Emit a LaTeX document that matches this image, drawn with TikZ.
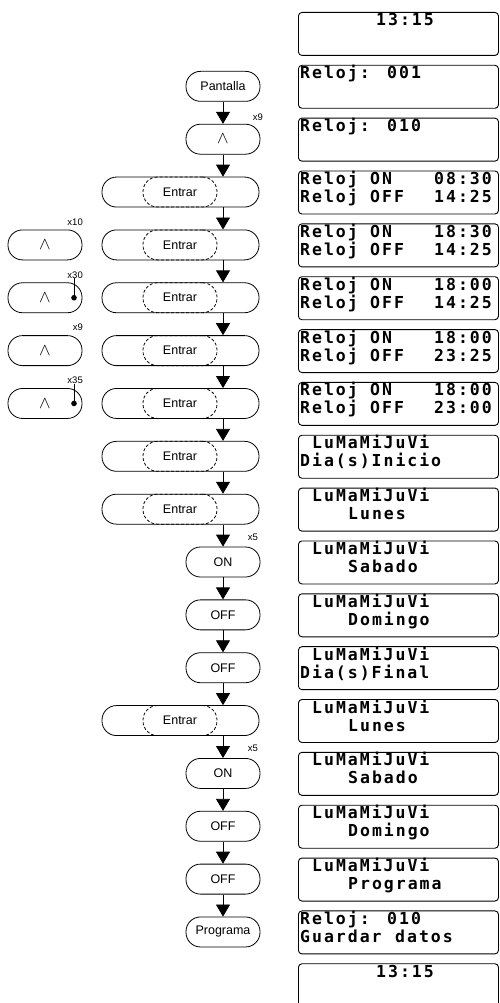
\documentclass[tikz,border=0pt]{standalone}
\usepackage{fontspec}
\setmainfont{Liberation Sans}
\newfontfamily\lcdfont[LetterSpace=12]{DejaVu Sans Mono}
\usetikzlibrary{arrows.meta}
\newcommand\upkey{\fontsize{16}{16}\selectfont$\wedge$}
\newcommand\lcdt[4]{\node[lcdtxt] (t-#1-#2-#3) at (#3,{12+52.85*#1-4+18*#2}) {#4};}
\tikzset{
  lcdbox/.style={draw, line width=0.9pt, rounded corners=3.5pt, minimum width=200pt, minimum height=43pt, anchor=north west, inner sep=0pt},
  lcdtxt/.style={font={\lcdfont\fontsize{16.5}{16.5}\selectfont\bfseries}, anchor=base west, inner sep=0pt},
  flow/.style={draw, line width=0.8pt, rounded corners=14.5pt, minimum width=74pt, minimum height=30pt, inner sep=0pt, font=\fontsize{12.5}{12.5}\selectfont},
  wideflow/.style={flow, minimum width=157pt},
  innerkey/.style={flow, dashed, dash pattern=on 3pt off 2pt},
  arr/.style={-{Triangle[width=14pt,length=12pt]}, line width=0.8pt},
  cnt/.style={font=\fontsize{9.5}{9.5}\selectfont, inner sep=0pt, anchor=east},
}
\begin{document}
\begin{tikzpicture}[x=1pt,y=-1pt]
\useasboundingbox (0,0) rectangle (499,1003);
% LCD displays
\foreach \i in {0,...,17} {
  \node[lcdbox] (d\i) at (298,{12+52.85*\i}) {};
}
\node[lcdbox, minimum height=60pt] (d18) at (298,{12+52.85*18}) {};
\lcdt{0}{1}{376}{13:15}
\lcdt{1}{1}{300}{Reloj:}\lcdt{1}{1}{387}{001}
\lcdt{2}{1}{300}{Reloj:}\lcdt{2}{1}{387}{010}
\lcdt{3}{1}{300}{Reloj}\lcdt{3}{1}{370}{ON}\lcdt{3}{1}{434}{08:30}
\lcdt{3}{2}{300}{Reloj}\lcdt{3}{2}{370}{OFF}\lcdt{3}{2}{434}{14:25}
\lcdt{4}{1}{300}{Reloj}\lcdt{4}{1}{370}{ON}\lcdt{4}{1}{434}{18:30}
\lcdt{4}{2}{300}{Reloj}\lcdt{4}{2}{370}{OFF}\lcdt{4}{2}{434}{14:25}
\lcdt{5}{1}{300}{Reloj}\lcdt{5}{1}{370}{ON}\lcdt{5}{1}{434}{18:00}
\lcdt{5}{2}{300}{Reloj}\lcdt{5}{2}{370}{OFF}\lcdt{5}{2}{434}{14:25}
\lcdt{6}{1}{300}{Reloj}\lcdt{6}{1}{370}{ON}\lcdt{6}{1}{434}{18:00}
\lcdt{6}{2}{300}{Reloj}\lcdt{6}{2}{370}{OFF}\lcdt{6}{2}{434}{23:25}
\lcdt{7}{1}{300}{Reloj}\lcdt{7}{1}{370}{ON}\lcdt{7}{1}{434}{18:00}
\lcdt{7}{2}{300}{Reloj}\lcdt{7}{2}{370}{OFF}\lcdt{7}{2}{434}{23:00}
\lcdt{8}{1}{312}{LuMaMiJuVi}\lcdt{8}{2}{300}{Dia(s)Inicio}
\lcdt{9}{1}{312}{LuMaMiJuVi}\lcdt{9}{2}{348}{Lunes}
\lcdt{10}{1}{312}{LuMaMiJuVi}\lcdt{10}{2}{348}{Sabado}
\lcdt{11}{1}{312}{LuMaMiJuVi}\lcdt{11}{2}{348}{Domingo}
\lcdt{12}{1}{312}{LuMaMiJuVi}\lcdt{12}{2}{300}{Dia(s)Final}
\lcdt{13}{1}{312}{LuMaMiJuVi}\lcdt{13}{2}{348}{Lunes}
\lcdt{14}{1}{312}{LuMaMiJuVi}\lcdt{14}{2}{348}{Sabado}
\lcdt{15}{1}{312}{LuMaMiJuVi}\lcdt{15}{2}{348}{Domingo}
\lcdt{16}{1}{312}{LuMaMiJuVi}\lcdt{16}{2}{348}{Programa}
\lcdt{17}{1}{300}{Reloj:}\lcdt{17}{1}{387}{010}
\lcdt{17}{2}{300}{Guardar}\lcdt{17}{2}{395}{datos}
\lcdt{18}{1}{376}{13:15}
% flow column
\node[flow] (f1) at (223,{33.5+52.85*1}) {Pantalla};
\node[flow] (f2) at (223,{33.5+52.85*2}) {\upkey};
\foreach \i in {3,...,9,13} {
  \node[innerkey] (e\i) at (180,{33.5+52.85*\i}) {Entrar};
  \node[wideflow] (f\i) at (180.5,{33.5+52.85*\i}) {};
}
\node[flow] (f10) at (223,{33.5+52.85*10}) {ON};
\node[flow] (f11) at (223,{33.5+52.85*11}) {OFF};
\node[flow] (f12) at (223,{33.5+52.85*12}) {OFF};
\node[flow] (f14) at (223,{33.5+52.85*14}) {ON};
\node[flow] (f15) at (223,{33.5+52.85*15}) {OFF};
\node[flow] (f16) at (223,{33.5+52.85*16}) {OFF};
\node[flow] (f17) at (223,{33.5+52.85*17}) {Programa};
\foreach \a/\b in {1/2,2/3,3/4,4/5,5/6,6/7,7/8,8/9,9/10,10/11,11/12,12/13,13/14,14/15,15/16,16/17} {
  \draw[arr] (f\a.south -| f1.center) -- (f\b.north -| f1.center);
}
\node[cnt] (m2) at (263,{33.5+52.85*2-22}) {x9};
\node[cnt] (m10) at (258,{33.5+52.85*10-25}) {x5};
\node[cnt] (m14) at (258,{33.5+52.85*14-25}) {x5};
% left keys
\foreach \i in {4,...,7} {
  \node[flow] (k\i) at (45,{33.5+52.85*\i}) {\upkey};
}
\node[cnt] (n4) at (83,{33.5+52.85*4-23}) {x10};
\node[cnt] (n5) at (83,{33.5+52.85*5-23}) {x30};
\node[cnt] (n6) at (83,{33.5+52.85*6-23}) {x9};
\node[cnt] (n7) at (83,{33.5+52.85*7-23}) {x35};
\coordinate (p5) at (74,{33.5+52.85*5});
\coordinate (p7) at (74,{33.5+52.85*7});
\draw[line width=0.8pt] (n5.south -| p5) -- (p5);
\draw[line width=0.8pt] (n7.south -| p7) -- (p7);
\fill (p5) circle (2.8pt);
\fill (p7) circle (2.8pt);
\end{tikzpicture}
\end{document}
